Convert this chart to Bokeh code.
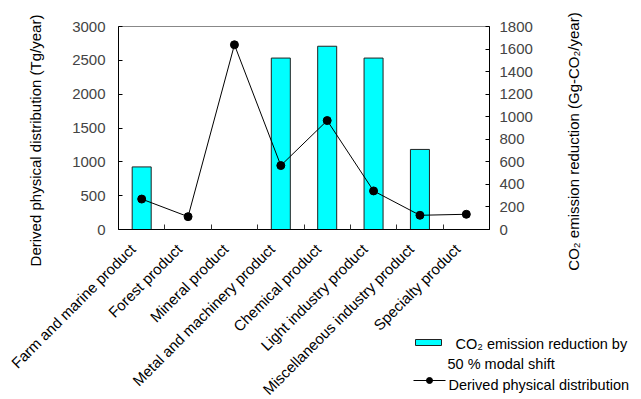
import math
from bokeh.plotting import figure
from bokeh.models import Range1d, LinearAxis, FixedTicker, ColumnDataSource, GridBox
from bokeh.core.properties import value
from bokeh.embed import file_html
from bokeh.resources import INLINE

categories = ["Farm and marine product", "Forest product", "Mineral product",
              "Metal and machinery product", "Chemical product",
              "Light industry product", "Miscellaneous industry product",
              "Specialty product"]
co2_reduction = [555, 0, 0, 1520, 1625, 1520, 710, 0]              # Gg-CO2/year (right axis)
physical_distribution = [450, 190, 2730, 945, 1610, 570, 210, 225]  # Tg/year (left axis)
left_ticks = [0, 500, 1000, 1500, 2000, 2500, 3000]
right_ticks = [0, 200, 400, 600, 800, 1000, 1200, 1400, 1600, 1800]
left_title = "Derived physical distribution (Tg/year)"
right_title = "CO\u2082 emission reduction (Gg-CO\u2082/year)"
legend_bar_label_1 = "CO\u2082 emission reduction by"
legend_bar_label_2 = "50 % modal shift"
legend_line_label = "Derived physical distribution"

FONT = "Liberation Sans"
FS = "15px"
LFS = "14.5px"
W, H = 641, 399

xpos = [i + 0.5 for i in range(len(categories))]
src = ColumnDataSource(dict(x=xpos, co2=co2_reduction, dist=physical_distribution))

# fixed plotting frame (371 x 203 px) placed 118 px from the left and 26 px from the top
p = figure(frame_width=371, frame_height=203, output_backend="svg", toolbar_location=None,
           x_range=Range1d(0, len(categories)), y_range=Range1d(0, 3000),
           min_border_left=118, min_border_right=152, min_border_top=26,
           min_border_bottom=170, x_axis_type=None, y_axis_type=None)
p.extra_y_ranges = {"co2": Range1d(0, 1800)}
p.xgrid.visible = False
p.ygrid.visible = False
p.outline_line_color = "#888888"
p.background_fill_color = "white"
p.border_fill_color = "white"

# bottom axis: category names at the centres, small inner ticks at the boundaries
xa = LinearAxis(ticker=FixedTicker(ticks=xpos, minor_ticks=list(range(1, len(categories)))))
xa.major_label_overrides = {x: c + "\u00a0\u00a0\u00a0" for x, c in zip(xpos, categories)}
xa.major_label_orientation = math.pi / 4
xa.major_tick_line_color = None
xa.minor_tick_in = 5
xa.minor_tick_out = 0
xa.minor_tick_line_color = "#333333"
xa.minor_tick_line_width = 1
xa.axis_line_color = "black"
xa.major_label_text_font = FONT
xa.major_label_text_font_size = FS
xa.major_label_text_color = "black"
xa.major_label_standoff = 2
p.add_layout(xa, "below")

# left axis
ya = LinearAxis(ticker=FixedTicker(ticks=left_ticks))
ya.major_tick_in = 4
ya.major_tick_out = 0
ya.minor_tick_line_color = None
ya.major_label_standoff = 13
ya.major_label_text_font = FONT
ya.major_label_text_font_size = FS
p.add_layout(ya, "left")

# right axis
ra = LinearAxis(y_range_name="co2", ticker=FixedTicker(ticks=right_ticks))
ra.major_tick_in = 4
ra.major_tick_out = 0
ra.minor_tick_line_color = None
ra.major_label_standoff = 10
ra.major_label_text_font = FONT
ra.major_label_text_font_size = FS
p.add_layout(ra, "right")

bars = p.vbar(x="x", top="co2", width=0.41, source=src, y_range_name="co2",
              fill_color="#00FFFF", line_color="#222222", line_width=1)
line_r = p.line(x="x", y="dist", source=src, line_color="black", line_width=1)
dots_r = p.scatter(x="x", y="dist", source=src, size=8, fill_color="black",
                   line_color="black")

# transparent overlay in page pixels: axis titles (reading bottom-to-top) and legend
ov = figure(width=W, height=H, output_backend="svg", toolbar_location=None,
            x_range=Range1d(0, W), y_range=Range1d(H, 0),
            min_border_left=0, min_border_right=0, min_border_top=0,
            min_border_bottom=0, x_axis_type=None, y_axis_type=None)
ov.frame_align = False
ov.xgrid.visible = False
ov.ygrid.visible = False
ov.outline_line_color = None
ov.background_fill_alpha = 0
ov.border_fill_alpha = 0

ov.text(x=[35, 573], y=[140, 141], text=[left_title, right_title], angle=math.pi / 2,
        text_font=value(FONT), text_font_size=value(FS),
        text_align="center", text_baseline="middle", text_color="black")

ov.quad(left=[415], right=[441], top=[339], bottom=[345],
        fill_color="#00FFFF", line_color="#222222", line_width=1)
ov.line(x=[413, 445], y=[380, 380], line_color="black", line_width=1)
ov.scatter(x=[429], y=[380], size=6, fill_color="black", line_color="black")
ov.text(x=[455, 447, 448], y=[343, 363, 384],
        text=[legend_bar_label_1, legend_bar_label_2, legend_line_label],
        text_font=value(FONT), text_font_size=value(LFS),
        text_baseline="alphabetic", text_align="left", text_color="black")

layout = GridBox(children=[(p, 0, 0), (ov, 0, 0)], width=W, height=H,
                 styles={"overflow": "hidden"})
open("out.html", "w").write(file_html(layout, INLINE))
